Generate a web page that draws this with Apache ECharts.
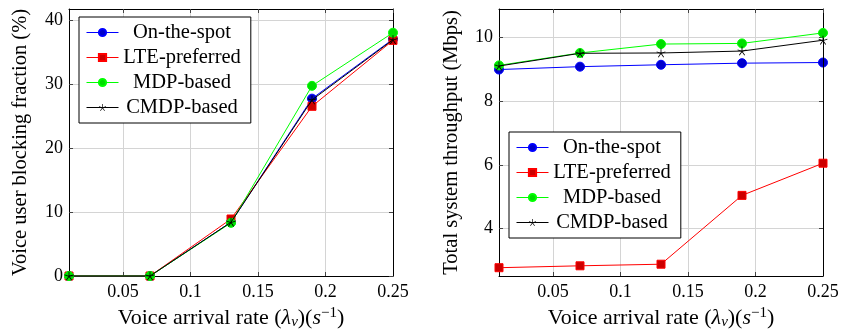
<!DOCTYPE html>
<html><head><meta charset="utf-8">
<script src="https://cdn.jsdelivr.net/npm/echarts@6/dist/echarts.min.js"></script>
<style>html,body{margin:0;padding:0;background:#fff}#c{width:841px;height:330px}</style>
</head><body><div id="c"></div>
<script>
const xValues = [0.01, 0.07, 0.13, 0.19, 0.25];
const seriesNames = ['On-the-spot', 'LTE-preferred', 'MDP-based', 'CMDP-based'];
const blockOnSpot = [0, 0, 8.4, 27.7, 37.0];
const blockLTE    = [0, 0, 8.9, 26.5, 36.8];
const blockMDP    = [0, 0, 8.3, 29.7, 38.0];
const blockCMDP   = [0, 0, 8.4, 27.5, 36.9];
const thrOnSpot = [8.99, 9.08, 9.14, 9.19, 9.21];
const thrLTE    = [2.77, 2.83, 2.88, 5.04, 6.05];
const thrMDP    = [9.12, 9.51, 9.79, 9.81, 10.14];
const thrCMDP   = [9.10, 9.50, 9.51, 9.57, 9.91];
const xTicks = [0.05, 0.1, 0.15, 0.2, 0.25];
const blockTicks = [0, 10, 20, 30, 40];
const thrTicks = [4, 6, 8, 10];
const xTitle = 'Voice arrival rate ({i|λ}{sub|v})({i|s}{sup|−1})';
const yTitleLeft = 'Voice user blocking fraction (%)';
const yTitleRight = 'Total system throughput (Mbps)';

const FONT = '"Liberation Serif", "DejaVu Serif", serif';

function starPath() {
  let s = '';
  const c = 50, L = 50, w = 4.5;
  for (let k = 0; k < 5; k++) {
    const a = k * 72 * Math.PI / 180;
    const dx = Math.sin(a), dy = -Math.cos(a), px = Math.cos(a), py = Math.sin(a);
    const pts = [
      [c + px * w, c + py * w],
      [c + dx * L + px * w, c + dy * L + py * w],
      [c + dx * L - px * w, c + dy * L - py * w],
      [c - px * w, c - py * w]
    ];
    s += 'M' + pts.map(p => p[0].toFixed(2) + ' ' + p[1].toFixed(2)).join(' L') + ' Z ';
  }
  return 'path://' + s;
}
const STAR = starPath();

const styles = [
  { line: '#0000ff', fill: '#0000cc', symbol: 'circle', size: 9 },
  { line: '#ff0000', fill: '#cc0000', symbol: 'rect', size: 8 },
  { line: '#00ff00', fill: '#00dd00', symbol: 'circle', size: 9 },
  { line: '#000000', fill: '#000000', symbol: STAR, size: 9 }
];

const grids = [
  { left: 69, top: 9, width: 324, height: 267, outerBoundsMode: 'none', containLabel: false },
  { left: 499, top: 9, width: 324, height: 267, outerBoundsMode: 'none', containLabel: false }
];

const xName = {
  fontFamily: FONT, fontSize: 22, color: '#000', lineHeight: 24,
  rich: {
    i: { fontFamily: FONT, fontSize: 22, fontStyle: 'italic', color: '#000', lineHeight: 24 },
    sub: { fontFamily: FONT, fontSize: 15, fontStyle: 'italic', color: '#000', verticalAlign: 'bottom', lineHeight: 15 },
    sup: { fontFamily: FONT, fontSize: 15, color: '#000', verticalAlign: 'top', lineHeight: 15 }
  }
};

function mainX(gi) {
  return {
    type: 'value', gridIndex: gi, min: 0.01, max: 0.25, position: 'bottom', z: 1,
    name: xTitle, nameLocation: 'middle', nameGap: 28, nameTextStyle: xName,
    axisLine: { show: true, lineStyle: { color: '#000', width: 1 } },
    axisTick: { show: true, inside: true, length: 4, customValues: xTicks, lineStyle: { color: '#444' } },
    axisLabel: { customValues: xTicks, fontFamily: FONT, fontSize: 18, color: '#000', margin: 7,
      formatter: v => String(v) },
    splitLine: { show: true, customValues: xTicks.slice(0, -1), lineStyle: { color: '#d4d4d4', width: 1 } }
  };
}
function mirrorX(gi) {
  return {
    type: 'value', gridIndex: gi, min: 0.01, max: 0.25, position: 'top', z: 3,
    axisLine: { show: true, onZero: false, lineStyle: { color: '#000', width: 1 } },
    axisTick: { show: true, inside: true, length: 4, customValues: xTicks, lineStyle: { color: '#444' } },
    axisLabel: { show: false },
    splitLine: { show: false }
  };
}
function mainY(gi, min, max, ticks, title, gap) {
  return {
    type: 'value', gridIndex: gi, min: min, max: max, position: 'left', z: 1,
    name: title, nameLocation: 'middle', nameGap: gap, nameRotate: 90,
    nameTextStyle: { fontFamily: FONT, fontSize: 20.5, color: '#000' },
    axisLine: { show: true, onZero: false, lineStyle: { color: '#000', width: 1 } },
    axisTick: { show: true, inside: true, length: 4, customValues: ticks, lineStyle: { color: '#444' } },
    axisLabel: { customValues: ticks, fontFamily: FONT, fontSize: 18, color: '#000', margin: 6 },
    splitLine: { show: true, customValues: ticks.filter(t => t !== min), lineStyle: { color: '#d4d4d4', width: 1 } }
  };
}
function mirrorY(gi, min, max, ticks) {
  return {
    type: 'value', gridIndex: gi, min: min, max: max, position: 'right', z: 3,
    axisLine: { show: true, onZero: false, lineStyle: { color: '#000', width: 1 } },
    axisTick: { show: true, inside: true, length: 4, customValues: ticks, lineStyle: { color: '#444' } },
    axisLabel: { show: false },
    splitLine: { show: false }
  };
}

function mkSeries(names, arrays, xi, yi) {
  return arrays.map((arr, k) => ({
    type: 'line', name: names[k], xAxisIndex: xi, yAxisIndex: yi,
    data: xValues.map((x, j) => [x, arr[j]]),
    symbol: styles[k].symbol, symbolSize: styles[k].size, showSymbol: true,
    lineStyle: { color: styles[k].line, width: 1 },
    itemStyle: { color: styles[k].fill, borderColor: styles[k].line, borderWidth: k === 3 ? 0 : 1 },
    emphasis: { disabled: true }, animation: false, z: 2 + k
  }));
}

function legendCfg(left, top) {
  return {
    orient: 'vertical', left: left, top: top, data: seriesNames,
    backgroundColor: '#fff', borderColor: '#000', borderWidth: 1, borderRadius: 0,
    padding: [5, 10, 5, 7], itemGap: 4, itemWidth: 32, itemHeight: 9,
    selectedMode: false,
    lineStyle: { width: 1 },
    formatter: n => '{c|' + n + '}',
    textStyle: { fontFamily: FONT, fontSize: 20.5, color: '#000',
      rich: { c: { width: 117, align: 'center', fontFamily: FONT, fontSize: 20.5, lineHeight: 20, color: '#000' } } }
  };
}

const chart = echarts.init(document.getElementById('c'), null, { renderer: 'canvas' });
chart.setOption({
  animation: false,
  backgroundColor: '#fff',
  grid: grids,
  xAxis: [mainX(0), mirrorX(0), mainX(1), mirrorX(1)],
  yAxis: [
    mainY(0, 0, 41.7, blockTicks, yTitleLeft, 38), mirrorY(0, 0, 41.7, blockTicks),
    mainY(1, 2.51, 10.89, thrTicks, yTitleRight, 37), mirrorY(1, 2.51, 10.89, thrTicks)
  ],
  legend: [legendCfg(79, 17), legendCfg(509, 132)],
  series: [
    ...mkSeries(seriesNames, [blockOnSpot, blockLTE, blockMDP, blockCMDP], 0, 0),
    ...mkSeries(seriesNames, [thrOnSpot, thrLTE, thrMDP, thrCMDP], 2, 2)
  ]
});
</script></body></html>
